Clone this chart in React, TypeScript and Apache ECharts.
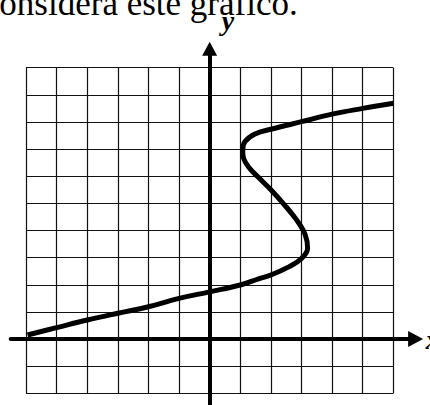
import React, { useEffect, useRef } from "react";
import * as echarts from "echarts";

// Curve points [x, y] in drawing order (a sideways "S")
const curveX = [-5.95, -5, -4, -3, -2, -1, 0, 1, 1.6, 2.0, 2.6, 3.0, 3.2, 3.12, 2.84, 2.4, 2.0, 1.6, 1.3, 1.1, 1.08, 1.15, 1.48, 2.0, 3.0, 4.0, 5.0, 6.0];
const curveY = [0.15, 0.42, 0.7, 0.95, 1.19, 1.5, 1.74, 1.99, 2.22, 2.36, 2.67, 2.97, 3.35, 3.85, 4.39, 5.0, 5.5, 5.95, 6.3, 6.7, 6.95, 7.27, 7.56, 7.73, 8.01, 8.29, 8.5, 8.69];

// Grid of cells: x from -6 to 6, y from -2 to 10
const gridXMin = -6;
const gridXMax = 6;
const gridYMin = -2;
const gridYMax = 10;

// Axis lines extent (in data units)
const axisXMin = -6.5;
const axisXMax = 6.73;
const axisYMin = -2.5;
const axisYMax = 10.7;

const titleText = "Considera este gráfico.";
const xName = "x";
const yName = "y";

export default function App() {
  const ref = useRef<HTMLDivElement>(null);

  useEffect(() => {
    if (!ref.current) return;
    const chart = echarts.init(ref.current, null, { renderer: "svg" });

    const gLeft = 26;
    const gTop = 67.7;
    const gW = 367.3;
    const gH = 325.6;
    const cellW = gW / (gridXMax - gridXMin);
    const cellH = gH / (gridYMax - gridYMin);
    const zeroX = gLeft + (0 - gridXMin) * cellW;
    const zeroY = gTop + (gridYMax - 0) * cellH;

    const a1Left = zeroX + axisXMin * cellW;
    const a1W = (axisXMax - axisXMin) * cellW;
    const a1Top = zeroY - axisYMax * cellH;
    const a1H = (axisYMax - axisYMin) * cellH;

    const data = curveX.map((x, i) => [x, curveY[i]]);

    const hidden = {
      axisLabel: { show: false },
      axisTick: { show: false },
    };

    const gridLine = { show: true, showMinLine: true, showMaxLine: true, lineStyle: { color: "#111", width: 1.2 } };

    chart.setOption({
      animation: false,
      grid: [
        { left: gLeft, top: gTop, width: gW, height: gH, outerBoundsMode: "none", containLabel: false },
        { left: a1Left, top: a1Top, width: a1W, height: a1H, outerBoundsMode: "none", containLabel: false },
      ],
      xAxis: [
        {
          type: "value",
          gridIndex: 0,
          min: gridXMin,
          max: gridXMax,
          interval: 1,
          axisLine: { show: false },
          splitLine: gridLine,
          ...hidden,
        },
        {
          type: "value",
          gridIndex: 1,
          min: axisXMin,
          max: axisXMax,
          axisLine: {
            show: true,
            onZero: true,
            symbol: ["none", "triangle"],
            symbolSize: [16, 15],
            lineStyle: { color: "#000", width: 4 },
          },
          splitLine: { show: false },
          name: xName,
          nameLocation: "end",
          nameGap: 10,
          nameTextStyle: {
            fontFamily: "Liberation Serif",
            fontStyle: "italic",
            fontWeight: "bold",
            fontSize: 28,
            color: "#000",
            verticalAlign: "middle",
            padding: [0, 0, 10, 0],
          },
          ...hidden,
        },
      ],
      yAxis: [
        {
          type: "value",
          gridIndex: 0,
          min: gridYMin,
          max: gridYMax,
          interval: 1,
          axisLine: { show: false },
          splitLine: gridLine,
          ...hidden,
        },
        {
          type: "value",
          gridIndex: 1,
          min: axisYMin,
          max: axisYMax,
          axisLine: {
            show: true,
            onZero: true,
            symbol: ["none", "triangle"],
            symbolSize: [15, 14],
            lineStyle: { color: "#000", width: 4 },
          },
          splitLine: { show: false },
          name: yName,
          nameLocation: "end",
          nameGap: 14,
          nameTextStyle: {
            fontFamily: "Liberation Serif",
            fontStyle: "italic",
            fontWeight: "bold",
            fontSize: 28,
            color: "#000",
            align: "left",
            padding: [0, 0, 0, 12],
          },
          ...hidden,
        },
      ],
      graphic: [
        {
          type: "text",
          left: -24,
          top: -14,
          style: {
            text: titleText,
            fontFamily: "Liberation Serif",
            fontSize: 35,
            fill: "#000",
          },
        },
      ],
      series: [
        {
          type: "line",
          xAxisIndex: 0,
          yAxisIndex: 0,
          data,
          smooth: 0.4,
          showSymbol: false,
          symbol: "none",
          lineStyle: { color: "#000", width: 5 },
          z: 5,
        },
      ],
    });

    return () => chart.dispose();
  }, []);

  return (
    <div
      ref={ref}
      style={{ position: "fixed", left: 0, top: 0, width: 430, height: 405, background: "#fff" }}
    />
  );
}
